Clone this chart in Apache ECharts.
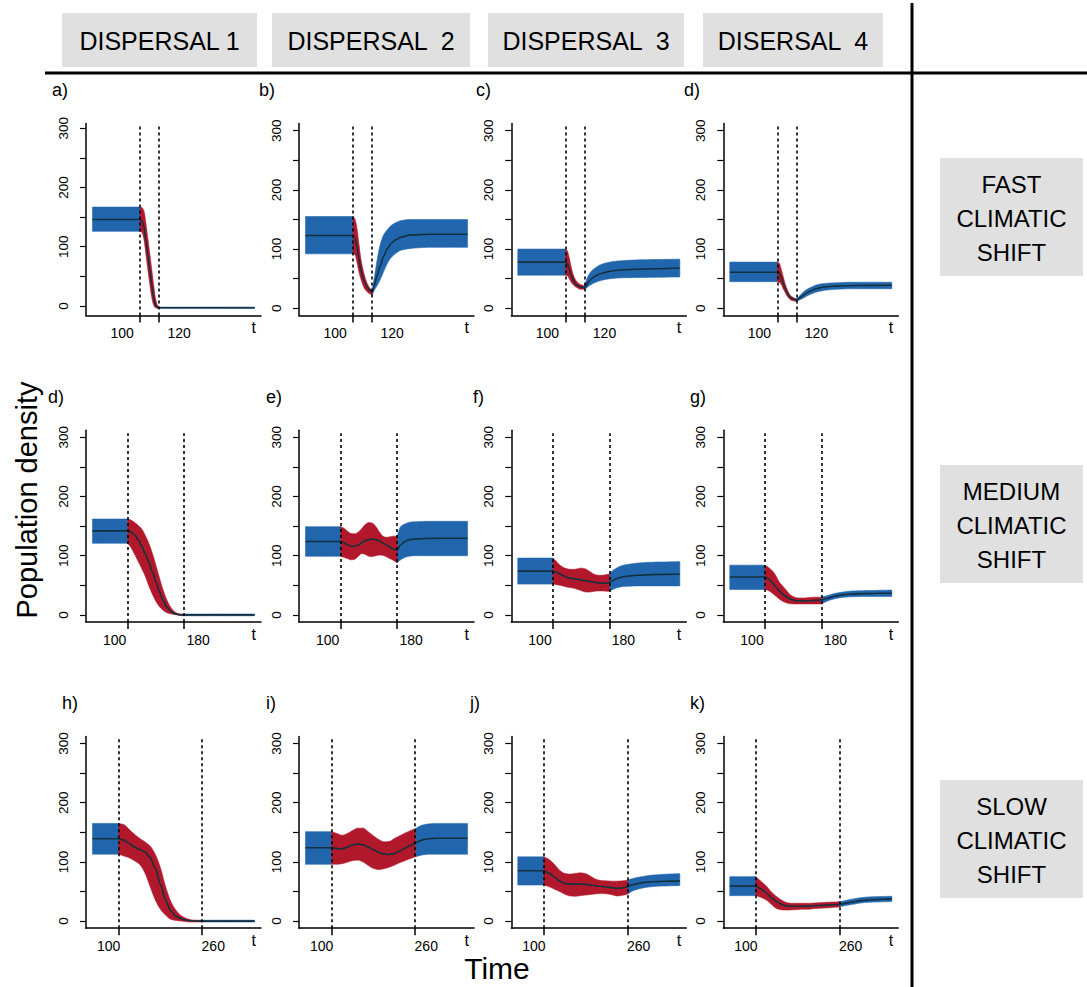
<!DOCTYPE html>
<html><head><meta charset="utf-8">
<script src="https://cdn.jsdelivr.net/npm/echarts@6/dist/echarts.min.js"></script>
<style>html,body{margin:0;padding:0;background:#fff}#c{width:1087px;height:987px}</style>
</head><body><div id="c"></div>
<script>
// ---------------- DATA ----------------
const tFast = [50,100,102,104,106,108,110,112,114,116,118,120,122,125,128,132,136,140,145,150,160,180,220];
const tMedium = [50,100,105,110,115,120,125,130,135,140,145,150,155,160,165,170,175,180,185,190,195,200,210,220,240,260,280];
const tSlow = [50,100,110,120,130,140,150,160,170,180,190,200,210,220,230,240,250,260,270,280,290,300,320,340,360];

const shiftStart = 100;
const shiftEnds = [120, 180, 260];
const yTickValues = [0, 50, 100, 150, 200, 250, 300];
const yLabelValues = [0, 100, 200, 300];

// FAST row
const aMean = [146,146,143,134,112,88,63,38,15,2,-2,-3,-3,-3,-3,-3,-3,-3,-3,-3,-3,-3,-3];
const aLo   = [126,126,124,112,88,62,38,16,2,-3,-4,-4,-4,-4,-4,-4,-4,-4,-4,-4,-4,-4,-4];
const aHi   = [167,167,166,160,140,115,90,64,38,14,2,-2,-2,-2,-2,-2,-2,-2,-2,-2,-2,-2,-2];

const bMean = [123,123,118,105,85,66,54,45,38,33,30,27,38,55,70,88,101,110,116,120,124,125,125];
const bLo   = [92,92,90,78,62,50,40,33,29,26,24,22,30,38,47,62,76,86,93,98,101,103,103];
const bHi   = [155,155,150,135,110,85,68,55,45,38,33,31,50,80,105,124,133,140,145,148,150,150,150];

const cMean = [78,78,75,66,56,48,42,39,37,36,35.5,35,40,46,51,55,58,60,62,63.5,65,66.5,68];
const cLo   = [56,56,55,50,44,40,37,35,33,32,32,32,34,38,41,44,46.5,48,49.5,50.5,51.5,52,53];
const cHi   = [100,100,97,85,70,58,50,45,42,40,39,38,48,58,64,69,73,75.5,77.5,79,80.5,82,83];

const dMean = [61,61,59,52,43,34,27,21,18,16,15,14,16,19.5,23,27,30,33,35,36.2,37.5,38.5,39];
const dLo   = [45,45,44,40,33,27,21,17,14,13,12,12,13,15.5,18,21.5,24.5,27,29,30.5,32,33,33];
const dHi   = [78,78,76,66,54,42,33,26,21,19,17,16,19,24,28.5,33,36,39,41,42,43,44,44];

// MEDIUM row
const d2Mean = [142,142,140,135,127,116,103,89,73,56,39,25,14,7,3,1,0,0,0,0,0,0,0,0,0,0,0];
const d2Lo   = [121,121,113,102,90,78,65,49,35,23,14,8,4,2,1,0,-1,-1.5,-1.5,-1.5,-1.5,-1.5,-1.5,-1.5,-1.5,-1.5,-1.5];
const d2Hi   = [162,162,160,156,151,145,134,121,104,84,63,43,27,15,7,3,1.5,1.5,1.5,1.5,1.5,1.5,1.5,1.5,1.5,1.5,1.5];

const eMean = [124,124,122,118,116,116,118,122,125.5,127.5,128,127,125,121.5,118,114,111,110,118,123,126,127.5,128.5,129,129.5,129.5,129.5];
const eLo   = [99,99,97,95,93,94,99,103.5,102,99,98.5,100,101,100.5,98,95,92,88,93,96.5,98.5,99.5,100,100,100,100,100];
const eHi   = [149,149,146,141,137.5,137,140,146,153,156,155,149,140,133,131,132,133,133,149,153,155.5,157,157.5,158,158,158,158];

const fMean = [74,74,72,69,66,63,61.5,61,60,59,58,57,56,55,54,53.5,53.5,55,58,61,63,64.5,66,67,68,68.5,69];
const fLo   = [52,52,51,50,48.5,47,46,45,43,41,39,38.5,39,40,40.5,40.5,40,40,43,45.5,47,48,48.5,49,49,49,49];
const fHi   = [96,96,90,84,80,78,77,77,78,79,78,75,71,68,67,67,68,69,75,79,82,84,86,87.5,89,89.5,90];

const gMean = [64,64,61,55.5,48,40.5,35,31,27.5,25,24,23.5,23.5,23.8,24,24.5,25,25.3,27,28.5,30.5,32,34,35,36,36.5,36.6];
const gLo   = [43,43,41,37,32,27,23,20.5,19,18.6,18.6,18.6,18.6,18.6,18.6,18.6,18.6,18.6,21.5,24,26,27.5,29.5,30.5,31,31,31];
const gHi   = [84,84,80,75,67,56,49,42,35,31,29,28.5,28.5,29,29.5,30,30,30,31.5,33,35,36.5,38.5,40,41,41.5,42];

// SLOW row
const hMean = [139,139,137,131,125,121,117,108,90,62,35,17,8,4,1.7,0.5,0,0,0,0,0,0,0,0,0];
const hLo   = [113,113,110,107,102,96,82,59,36,20,10,3,1,0,-1,-1.5,-1.5,-1.5,-1.5,-1.5,-1.5,-1.5,-1.5,-1.5,-1.5];
const hHi   = [165,165,163,155,147,140,134,127,113,90,58,33,18,9,4.5,2,1.5,1.5,1.5,1.5,1.5,1.5,1.5,1.5,1.5];

const iMean = [124,124,122.5,122,125,128.5,130,129,125,120.5,116,113.5,112.5,114,118.5,123,127.5,132,136,138.5,139.5,140,140,140,140];
const iLo   = [96,96,96,97,99.5,102,103,100,94,89,87,88.5,91,94.5,98.5,102,105.5,108.5,111,112.5,113,113,113,113,113];
const iHi   = [151,151,148,145,148,153,157,157,151,144,138,134,134.5,139.5,144,148.5,152.5,156,161,163.5,164.5,165,165,165,165];

const jMean = [85,85,81,74.5,67.5,63.5,62.5,62.5,62.5,62,61,59.5,58.5,57.5,56.5,55.5,56,58,61.5,63.5,65,66,67,67.5,68];
const jLo   = [61,61,58,54,50,45.5,42.5,42,43,44,45,46,46.5,46,44.5,42.5,43.5,45.5,51,54,56,57.5,59,59.5,60];
const jHi   = [108.6,108.6,104,96,86,80.5,79.5,80.5,81.5,80,75.5,70.5,68.5,68,67.5,67.5,68,69,72,74,75.5,77,78.5,79.5,80];

const kMean = [59,59,54,47.5,39,32.6,28,25.3,25,25,25.2,25.3,25.8,26.3,26.8,27.3,27.6,28,30,31.5,33,34.5,36,37,37.5];
const kLo   = [43,43,40,35.5,28,21,19,18.6,19,19.5,20,20,21,21.5,22,22.5,23.2,24,26,27.5,29,30.5,32,32.5,33];
const kHi   = [75,75,67,59,49,41,35,31,30,30,30,30,30.5,31,31.5,32,32.3,32.6,34.5,36.5,38,39.5,41,41.5,42];

const panelLetters = ['a)','b)','c)','d)','d)','e)','f)','g)','h)','i)','j)','k)'];
const headerLabels = ['DISPERSAL 1','DISPERSAL  2','DISPERSAL  3','DISERSAL  4'];
const rowLabels = ['FAST\nCLIMATIC\nSHIFT','MEDIUM\nCLIMATIC\nSHIFT','SLOW\nCLIMATIC\nSHIFT'];
const yTitle = 'Population density';
const xTitle = 'Time';
const xAxisName = 't';

// ---------------- LAYOUT / STYLE ----------------
const BLUE = '#2166ac', RED = '#b2182b', MEANC = '#14303f';
const FONT = '"Liberation Sans", Arial, sans-serif';
const HFONT = '"Liberation Sans", Arial, sans-serif';

const rows = [
  {t: tFast,   end: shiftEnds[0], xmin: 43.2, xmax: 226.8, top: 123.6, offL: 18, offR: 20},
  {t: tMedium, end: shiftEnds[1], xmin: 40.8, xmax: 289.2, top: 430.2, offL: 13, offR: 14},
  {t: tSlow,   end: shiftEnds[2], xmin: 37.6, xmax: 372.4, top: 736.4, offL: 10, offR: 11}
];
const colLefts = [86, 299, 511.3, 723.3];
const plotW = 175, plotH = 191.8;

const panels = [
  {row:0,col:0,mean:aMean,lo:aLo,hi:aHi,ymin:-16,ymax:308},
  {row:0,col:1,mean:bMean,lo:bLo,hi:bHi},
  {row:0,col:2,mean:cMean,lo:cLo,hi:cHi},
  {row:0,col:3,mean:dMean,lo:dLo,hi:dHi},
  {row:1,col:0,mean:d2Mean,lo:d2Lo,hi:d2Hi},
  {row:1,col:1,mean:eMean,lo:eLo,hi:eHi},
  {row:1,col:2,mean:fMean,lo:fLo,hi:fHi},
  {row:1,col:3,mean:gMean,lo:gLo,hi:gHi},
  {row:2,col:0,mean:hMean,lo:hLo,hi:hHi},
  {row:2,col:1,mean:iMean,lo:iLo,hi:iHi},
  {row:2,col:2,mean:jMean,lo:jLo,hi:jHi},
  {row:2,col:3,mean:kMean,lo:kLo,hi:kHi}
];
const letterPos = [[52,90],[259,90],[476,90],[684,90],[48,397],[266,397],[473,397],[690,397],[62,703],[266,703],[470,703],[690,703]];

// monotone (PCHIP) interpolation used only to draw smooth band edges
function pchip(xs, ys, steps) {
  const n = xs.length;
  if (n < 2) return xs.map((x, i) => [x, ys[i]]);
  const h = [], d = [], m = new Array(n).fill(0);
  for (let i = 0; i < n - 1; i++) { h[i] = xs[i+1] - xs[i]; d[i] = (ys[i+1] - ys[i]) / h[i]; }
  m[0] = d[0]; m[n-1] = d[n-2];
  for (let k = 1; k < n - 1; k++) {
    if (d[k-1] * d[k] <= 0) { m[k] = 0; continue; }
    const w1 = 2 * h[k] + h[k-1], w2 = h[k] + 2 * h[k-1];
    m[k] = (w1 + w2) / (w1 / d[k-1] + w2 / d[k]);
  }
  const out = [];
  for (let i = 0; i < n - 1; i++) {
    for (let s = 0; s < steps; s++) {
      const u = s / steps, u2 = u * u, u3 = u2 * u;
      const y = (2*u3 - 3*u2 + 1) * ys[i] + (u3 - 2*u2 + u) * h[i] * m[i] + (-2*u3 + 3*u2) * ys[i+1] + (u3 - u2) * h[i] * m[i+1];
      out.push([xs[i] + u * h[i], y]);
    }
  }
  out.push([xs[n-1], ys[n-1]]);
  return out;
}

function bandRenderer(color) {
  return function (params, api) {
    if (params.dataIndexInside !== 0) return null;
    const n = params.dataInsideLength;
    const xs = [], lo = [], hi = [];
    for (let k = 0; k < n; k++) { xs.push(api.value(0, k)); lo.push(api.value(1, k)); hi.push(api.value(2, k)); }
    const top = pchip(xs, hi, 8).map(p => api.coord(p));
    const bot = pchip(xs, lo, 8).map(p => api.coord(p)).reverse();
    return {type:'polygon', shape:{points: top.concat(bot)}, style:{fill:color, stroke:color, lineWidth:0.6}};
  };
}

const grids = [], xAxes = [], yAxes = [], series = [];

function segRows(t, lo, hi, a, b) {
  const out = [];
  for (let j = 0; j < t.length; j++) if (t[j] >= a && t[j] <= b) out.push([t[j], lo[j], hi[j]]);
  return out;
}
function addBand(i, data, color) {
  series.push({type:'custom', coordinateSystem:'cartesian2d', xAxisIndex:i, yAxisIndex:i,
    silent:true, z:2, data:data, encode:{x:0, y:[1,2]}, renderItem:bandRenderer(color)});
}

panels.forEach((p, i) => {
  const r = rows[p.row];
  const ymin = p.ymin !== undefined ? p.ymin : -12;
  const ymax = p.ymax !== undefined ? p.ymax : 312;
  grids.push({left: colLefts[p.col], top: r.top, width: plotW, height: plotH});
  const lblStyle = {fontSize:14, color:'#000', fontFamily:FONT};
  xAxes.push({
    gridIndex:i, type:'value', min:r.xmin, max:r.xmax,
    axisLine:{show:true, onZero:false, lineStyle:{color:'#000', width:1.5}},
    axisTick:{show:true, customValues:[shiftStart, r.end], length:7, lineStyle:{color:'#000', width:1.5}},
    axisLabel:{show:true, customValues:[shiftStart, r.end], margin:11, hideOverlap:false,
      formatter: v => (v === shiftStart ? '{s|' + v + '}' : '{e|' + v + '}'),
      rich:{s:Object.assign({padding:[0, 2*r.offL, 0, 0]}, lblStyle), e:Object.assign({padding:[0, 0, 0, 2*r.offR]}, lblStyle)}},
    splitLine:{show:false},
    name:xAxisName, nameLocation:'end', nameGap:-5,
    nameTextStyle:{fontSize:16, color:'#000', fontFamily:FONT, align:'right', verticalAlign:'top', padding:[4,0,0,0]}
  });
  yAxes.push({
    gridIndex:i, type:'value', min:ymin, max:ymax,
    axisLine:{show:true, onZero:false, lineStyle:{color:'#000', width:1.5}},
    axisTick:{show:true, customValues:yTickValues, length:6, lineStyle:{color:'#000', width:1.2}},
    axisLabel:{show:true, customValues:yLabelValues, rotate:90, fontSize:13.5, color:'#000', margin:16, fontFamily:FONT},
    splitLine:{show:false}
  });
  const t = r.t;
  addBand(i, segRows(t, p.lo, p.hi, t[0], shiftStart), BLUE);
  addBand(i, segRows(t, p.lo, p.hi, r.end, t[t.length-1]), BLUE);
  addBand(i, segRows(t, p.lo, p.hi, shiftStart, r.end), RED);
  const dashTop = Math.min(307, ymax - 1);
  series.push({
    type:'line', xAxisIndex:i, yAxisIndex:i, symbol:'none', smooth:0.3, smoothMonotone:'x', silent:true, z:4,
    data: t.map((x, j) => [x, p.mean[j]]),
    lineStyle:{color:MEANC, width:1.6},
    markLine:{silent:true, symbol:['none','none'], label:{show:false}, z:5,
      lineStyle:{color:'#000', type:[3,3], width:1.6},
      data:[[{coord:[shiftStart, ymin]},{coord:[shiftStart, dashTop]}],
            [{coord:[r.end, ymin]},{coord:[r.end, dashTop]}]]}
  });
});

// ---------------- DECORATION ----------------
const graphic = [];
const headerBoxes = [[62,13,195,54],[272,13,198,54],[488,13,196,54],[703,13,180,54]];
headerBoxes.forEach((b, k) => {
  graphic.push({type:'rect', shape:{x:b[0], y:b[1], width:b[2], height:b[3]}, style:{fill:'#e0e0e0'}, silent:true});
  graphic.push({type:'text', x:b[0] + b[2]/2, y:b[1] + b[3]/2 + 1,
    style:{text:headerLabels[k], fill:'#000', fontSize:25, fontFamily:HFONT,
      align:'center', verticalAlign:'middle', textAlign:'center', textVerticalAlign:'middle'}, silent:true});
});
const rowBoxes = [[940,158,143,118],[940,465,143,118],[940,780,143,118]];
rowBoxes.forEach((b, k) => {
  graphic.push({type:'rect', shape:{x:b[0], y:b[1], width:b[2], height:b[3]}, style:{fill:'#e0e0e0'}, silent:true});
  graphic.push({type:'text', x:b[0] + b[2]/2, y:b[1] + b[3]/2 + 1,
    style:{text:rowLabels[k], fill:'#000', fontSize:24, lineHeight:34, fontFamily:HFONT,
      align:'center', verticalAlign:'middle', textAlign:'center', textVerticalAlign:'middle'}, silent:true});
});
graphic.push({type:'line', shape:{x1:45, y1:73, x2:1087, y2:73}, style:{stroke:'#000', lineWidth:3}, silent:true});
graphic.push({type:'line', shape:{x1:912, y1:3, x2:912, y2:987}, style:{stroke:'#000', lineWidth:3}, silent:true});
letterPos.forEach((q, k) => {
  graphic.push({type:'text', x:q[0], y:q[1],
    style:{text:panelLetters[k], fill:'#000', fontSize:18, fontFamily:FONT,
      align:'left', verticalAlign:'middle', textAlign:'left', textVerticalAlign:'middle'}, silent:true});
});
graphic.push({type:'text', x:27, y:500, rotation:Math.PI/2,
  style:{text:yTitle, fill:'#000', fontSize:29, fontFamily:HFONT,
    align:'center', verticalAlign:'middle', textAlign:'center', textVerticalAlign:'middle'}, silent:true});
graphic.push({type:'text', x:497, y:968,
  style:{text:xTitle, fill:'#000', fontSize:30, fontFamily:HFONT,
    align:'center', verticalAlign:'middle', textAlign:'center', textVerticalAlign:'middle'}, silent:true});

const chart = echarts.init(document.getElementById('c'), null, {renderer:'svg', width:1087, height:987});
chart.setOption({
  animation:false,
  backgroundColor:'#ffffff',
  textStyle:{fontFamily:FONT},
  grid:grids, xAxis:xAxes, yAxis:yAxes, series:series,
  graphic:{elements:graphic}
});
</script>
</body></html>
